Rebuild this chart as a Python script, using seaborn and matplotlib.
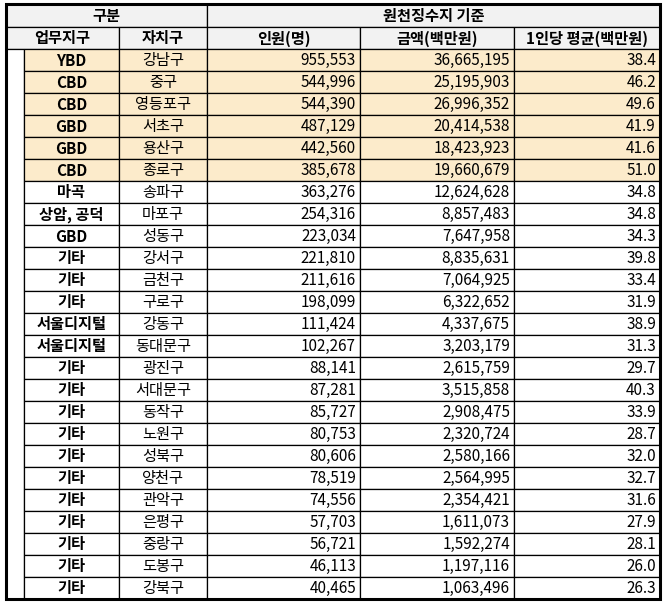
import matplotlib.pyplot as plt
import seaborn as sns
from matplotlib.patches import Rectangle

sns.set_theme(style="white")
plt.rcParams['font.family'] = ['Noto Sans CJK KR', 'DejaVu Sans']

zones = ["YBD", "CBD", "CBD", "GBD", "GBD", "CBD", "마곡", "상암, 공덕", "GBD", "기타", "기타", "기타",
         "서울디지털", "서울디지털", "기타", "기타", "기타", "기타", "기타", "기타", "기타", "기타", "기타", "기타", "기타"]
districts = ["강남구", "중구", "영등포구", "서초구", "용산구", "종로구", "송파구", "마포구", "성동구", "강서구",
             "금천구", "구로구", "강동구", "동대문구", "광진구", "서대문구", "동작구", "노원구", "성북구", "양천구",
             "관악구", "은평구", "중랑구", "도봉구", "강북구"]
people = [955553, 544996, 544390, 487129, 442560, 385678, 363276, 254316, 223034, 221810, 211616, 198099,
          111424, 102267, 88141, 87281, 85727, 80753, 80606, 78519, 74556, 57703, 56721, 46113, 40465]
amount = [36665195, 25195903, 26996352, 20414538, 18423923, 19660679, 12624628, 8857483, 7647958, 8835631,
          7064925, 6322652, 4337675, 3203179, 2615759, 3515858, 2908475, 2320724, 2580166, 2564995,
          2354421, 1611073, 1592274, 1197116, 1063496]
avg = [38.4, 46.2, 49.6, 41.9, 41.6, 51.0, 34.8, 34.8, 34.3, 39.8, 33.4, 31.9, 38.9, 31.3, 29.7, 40.3,
       33.9, 28.7, 32.0, 32.7, 31.6, 27.9, 28.1, 26.0, 26.3]
n_highlight = 6

W, H = 665, 606
fig = plt.figure(figsize=(W / 100, H / 100), dpi=100)
ax = fig.add_axes([0, 0, 1, 1])
ax.set_xlim(0, W)
ax.set_ylim(H, 0)
ax.axis('off')

xs = [6, 24, 119, 207, 360, 514, 660]
y0, y1, y2 = 4, 27, 49
rh = 22
hdr_bg = "#f2f2f2"
hl_bg = "#fcebcb"
fs = 11


def cell(x_a, x_b, y_a, y_b, txt, bg="white", ha="center", bold=False):
    ax.add_patch(Rectangle((x_a, y_a), x_b - x_a, y_b - y_a, facecolor=bg, edgecolor="black", lw=0.9))
    tx = (x_a + x_b) / 2 if ha == "center" else x_b - 4
    ax.text(tx, (y_a + y_b) / 2 + 0.5, txt, ha=ha, va="center", fontsize=fs,
            fontweight="bold" if bold else "normal", color="black")


# headers
cell(xs[0], xs[3], y0, y1, "구분", hdr_bg, bold=True)
cell(xs[3], xs[6], y0, y1, "원천징수지 기준", hdr_bg, bold=True)
cell(xs[0], xs[2], y1, y2, "업무지구", hdr_bg, bold=True)
cell(xs[2], xs[3], y1, y2, "자치구", hdr_bg, bold=True)
cell(xs[3], xs[4], y1, y2, "인원(명)", hdr_bg, bold=True)
cell(xs[4], xs[5], y1, y2, "금액(백만원)", hdr_bg, bold=True)
cell(xs[5], xs[6], y1, y2, "1인당 평균(백만원)", hdr_bg, bold=True)

# blank left column
ax.add_patch(Rectangle((xs[0], y2), xs[1] - xs[0], rh * len(zones), facecolor="white", edgecolor="black", lw=0.9))

for i in range(len(zones)):
    ya = y2 + i * rh
    yb = ya + rh
    bg = hl_bg if i < n_highlight else "white"
    cell(xs[1], xs[2], ya, yb, zones[i], bg, bold=True)
    cell(xs[2], xs[3], ya, yb, districts[i], bg)
    cell(xs[3], xs[4], ya, yb, f"{people[i]:,}", bg, ha="right")
    cell(xs[4], xs[5], ya, yb, f"{amount[i]:,}", bg, ha="right")
    cell(xs[5], xs[6], ya, yb, f"{avg[i]:.1f}", bg, ha="right")

# outer border
ax.add_patch(Rectangle((xs[0], y0), xs[6] - xs[0], y2 + rh * len(zones) - y0, facecolor="none",
                       edgecolor="black", lw=2.2))

fig.savefig("out.png", dpi=100, facecolor="white")
